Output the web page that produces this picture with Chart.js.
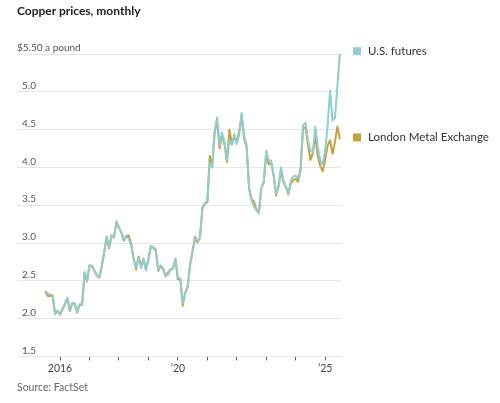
<!DOCTYPE html>
<html>
<head>
<meta charset="utf-8">
<title>Copper prices, monthly</title>
<script src="https://cdn.jsdelivr.net/npm/chart.js@4.4.1/dist/chart.umd.min.js"></script>
<style>
  html, body { margin: 0; padding: 0; background: #fff; }
  body { width: 500px; height: 403px; position: relative; overflow: hidden; font-family: Lato, "Noto Sans", sans-serif; }
  .title { position: absolute; left: 17px; top: 3px; font-size: 12px; font-weight: 700; color: #222; }
  .source { position: absolute; left: 17px; top: 381px; font-size: 10.5px; color: #666; }
  canvas { position: absolute; left: 0; top: 0; }
</style>
</head>
<body>
<canvas id="chart" width="500" height="403"></canvas>
<div class="title">Copper prices, monthly</div>
<div class="source">Source: FactSet</div>
<script>
// monthly closes, dollars a pound, Jul 2015 .. Jul 2025 (last one is the latest reading)
const startYear = 2015;
const startMonth = 7;

const usFutures = [
  2.37, 2.33, 2.32, 2.31, 2.06, 2.11,
  2.06, 2.13, 2.20, 2.28, 2.11, 2.21, 2.20, 2.09, 2.19, 2.19, 2.62, 2.50,
  2.71, 2.69, 2.64, 2.58, 2.55, 2.70, 2.88, 3.09, 2.95, 3.09, 3.07, 3.29,
  3.21, 3.14, 3.04, 3.08, 3.06, 2.96, 2.78, 2.68, 2.80, 2.67, 2.80, 2.64,
  2.78, 2.95, 2.94, 2.92, 2.64, 2.70, 2.66, 2.57, 2.58, 2.64, 2.66, 2.79,
  2.55, 2.53, 2.21, 2.34, 2.41, 2.70, 2.88, 3.05, 3.03, 3.07, 3.47, 3.53,
  3.55, 4.06, 4.00, 4.49, 4.66, 4.29, 4.46, 4.33, 4.10, 4.36, 4.30, 4.44,
  4.31, 4.44, 4.72, 4.41, 4.30, 3.72, 3.56, 3.49, 3.43, 3.39, 3.72, 3.82,
  4.22, 4.09, 4.09, 3.90, 3.65, 3.76, 4.00, 3.83, 3.75, 3.65, 3.82, 3.88,
  3.89, 3.85, 3.99, 4.56, 4.59, 4.36, 4.22, 4.20, 4.54, 4.27, 4.09, 4.04,
  4.22, 4.55, 5.02, 4.62, 4.66, 5.08, 5.51
];

const londonMetal = [
  2.35, 2.30, 2.30, 2.30, 2.06, 2.10,
  2.05, 2.12, 2.19, 2.27, 2.10, 2.20, 2.20, 2.08, 2.18, 2.18, 2.60, 2.49,
  2.70, 2.70, 2.63, 2.57, 2.54, 2.69, 2.88, 3.07, 2.93, 3.10, 3.09, 3.27,
  3.20, 3.14, 3.03, 3.09, 3.10, 2.99, 2.80, 2.65, 2.82, 2.70, 2.77, 2.66,
  2.79, 2.96, 2.94, 2.90, 2.63, 2.70, 2.65, 2.56, 2.61, 2.65, 2.66, 2.79,
  2.52, 2.52, 2.17, 2.34, 2.43, 2.72, 2.90, 3.08, 3.01, 3.07, 3.46, 3.52,
  3.54, 4.15, 4.01, 4.47, 4.62, 4.25, 4.42, 4.31, 4.07, 4.50, 4.31, 4.40,
  4.34, 4.48, 4.68, 4.38, 4.27, 3.73, 3.58, 3.55, 3.44, 3.41, 3.73, 3.80,
  4.18, 4.04, 4.06, 3.90, 3.63, 3.74, 3.95, 3.81, 3.74, 3.64, 3.79, 3.83,
  3.85, 3.81, 3.97, 4.52, 4.53, 4.30, 4.10, 4.19, 4.41, 4.15, 4.02, 3.95,
  4.10, 4.29, 4.36, 4.18, 4.34, 4.54, 4.37
];

const seriesNames = ['U.S. futures', 'London Metal Exchange'];
const seriesColors = ['#8fcdd2', '#c5a235'];

const yTicks = [1.5, 2.0, 2.5, 3.0, 3.5, 4.0, 4.5, 5.0, 5.5];
const yearLabels = { 2016: '2016', 2020: '\u201920', 2025: '\u201925' };

const FONT = 'Lato, "Noto Sans", sans-serif';

function toPoints(values) {
  return values.map((v, i) => ({ x: startYear + (startMonth - 1 + i) / 12, y: v }));
}

// direct labels at the right end of each line
const endLabels = {
  id: 'endLabels',
  afterDatasetsDraw(chart) {
    const { ctx, chartArea, scales } = chart;
    ctx.save();
    ctx.font = '11.5px ' + FONT;
    ctx.textBaseline = 'middle';
    chart.data.datasets.forEach(ds => {
      const last = ds.data[ds.data.length - 1];
      const py = scales.y.getPixelForValue(last.y) - 2;
      ctx.fillStyle = ds.borderColor;
      ctx.fillRect(chartArea.right + 11, py - 4, 8, 8);
      ctx.fillStyle = '#333';
      ctx.fillText(ds.label, chartArea.right + 26, py);
    });
    ctx.restore();
  }
};

new Chart(document.getElementById('chart'), {
  type: 'line',
  data: {
    datasets: [
      { label: seriesNames[0], data: toPoints(usFutures), borderColor: seriesColors[0] },
      { label: seriesNames[1], data: toPoints(londonMetal), borderColor: seriesColors[1] }
    ]
  },
  options: {
    responsive: false,
    animation: false,
    layout: { padding: { left: 17, right: 158, top: 54, bottom: 26 } },
    elements: {
      line: { borderWidth: 2, tension: 0, borderJoinStyle: 'round', fill: false },
      point: { radius: 0, hoverRadius: 0 }
    },
    plugins: {
      legend: { display: false },
      tooltip: { enabled: false }
    },
    scales: {
      x: {
        type: 'linear',
        min: 2014.54,
        max: 2025.572,
        border: { display: false },
        grid: { drawOnChartArea: false, drawTicks: true, tickLength: 4, color: '#555' },
        afterBuildTicks: s => { s.ticks = s.ticks.filter(t => t.value >= 2016); },
        ticks: {
          stepSize: 1,
          includeBounds: false,
          autoSkip: false,
          maxRotation: 0,
          padding: 2,
          color: '#444',
          font: { family: FONT, size: 10.5 },
          callback: v => yearLabels[v] || ''
        }
      },
      y: {
        min: 1.5,
        max: 5.5,
        border: { display: false },
        grid: { drawTicks: false, color: '#e6e6e6', lineWidth: 1 },
        afterBuildTicks: s => { s.ticks = yTicks.map(v => ({ value: v })); },
        ticks: {
          mirror: true,
          padding: 0,
          labelOffset: -6,
          color: '#555',
          font: { family: FONT, size: 10 },
          callback: v => v === 5.5 ? '$5.50 a pound' : '\u2002' + v.toFixed(1)
        }
      }
    }
  },
  plugins: [endLabels]
});
</script>
</body>
</html>
